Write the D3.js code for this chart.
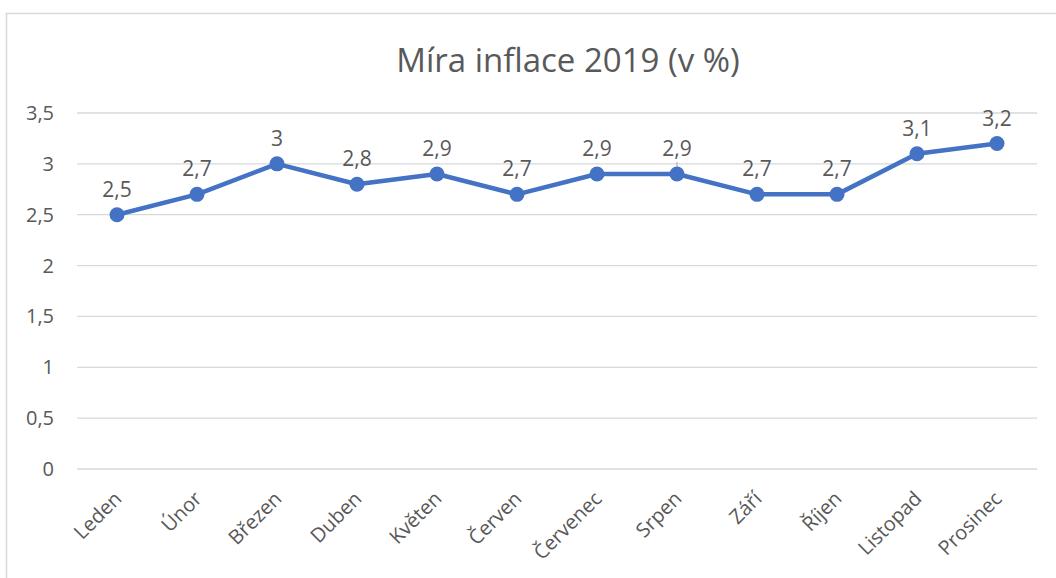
<!DOCTYPE html>
<html>
<head>
<meta charset="utf-8">
<script src="https://cdn.jsdelivr.net/npm/d3@7"></script>
<style>
  html, body { margin: 0; padding: 0; background: #fff; }
  svg { display: block; }
  text { font-family: "Open Sans", "Noto Sans", sans-serif; fill: #595959; }
</style>
</head>
<body>
<svg id="chart" width="1056" height="578"></svg>
<script>
const categories = ["Leden", "Únor", "Březen", "Duben", "Květen", "Červen", "Červenec", "Srpen", "Září", "Říjen", "Listopad", "Prosinec"];
const values = [2.5, 2.7, 3.0, 2.8, 2.9, 2.7, 2.9, 2.9, 2.7, 2.7, 3.1, 3.2];
const valueLabels = ["2,5", "2,7", "3", "2,8", "2,9", "2,7", "2,9", "2,9", "2,7", "2,7", "3,1", "3,2"];
const yTicks = [0, 0.5, 1, 1.5, 2, 2.5, 3, 3.5];
const yTickLabels = ["0", "0,5", "1", "1,5", "2", "2,5", "3", "3,5"];
const title = "Míra inflace 2019 (v %)";

const svg = d3.select("#chart");
const W = 1056, H = 578;
const plot = { left: 77, right: 1037, top: 113, bottom: 469 };

// chart area border
svg.append("rect")
  .attr("x", 6.5).attr("y", 13.5)
  .attr("width", W + 20).attr("height", H + 20)
  .attr("fill", "none").attr("stroke", "#d9d9d9").attr("stroke-width", 1.5);

const x = d3.scaleBand().domain(categories).range([plot.left, plot.right]);
const y = d3.scaleLinear().domain([0, 3.5]).range([plot.bottom, plot.top]);
const cx = d => x(d) + x.bandwidth() / 2;

// title
svg.append("text")
  .attr("x", 568).attr("y", 72)
  .attr("text-anchor", "middle")
  .style("font-size", "33px")
  .text(title);

// gridlines
svg.append("g").selectAll("line").data(yTicks).join("line")
  .attr("x1", plot.left).attr("x2", plot.right)
  .attr("y1", d => y(d)).attr("y2", d => y(d))
  .attr("stroke", "#d9d9d9").attr("stroke-width", 1.3);

// y tick labels
svg.append("g").selectAll("text").data(yTicks).join("text")
  .attr("x", 54).attr("y", d => y(d))
  .attr("dy", "0.35em")
  .attr("text-anchor", "end")
  .style("font-size", "20px")
  .text((d, i) => yTickLabels[i]);

// x labels
svg.append("g").selectAll("text").data(categories).join("text")
  .attr("transform", d => `translate(${cx(d) + 1},${495}) rotate(-45)`)
  .attr("dy", "0.35em")
  .attr("text-anchor", "end")
  .style("font-size", "20px")
  .text(d => d);

// line
const data = categories.map((c, i) => ({ c, v: values[i], l: valueLabels[i] }));
const line = d3.line().x(d => cx(d.c)).y(d => y(d.v));
svg.append("path").datum(data)
  .attr("d", line)
  .attr("fill", "none")
  .attr("stroke", "#4472C4")
  .attr("stroke-width", 4.5)
  .attr("stroke-linejoin", "round");

// leader line artifact at Srpen
svg.append("line")
  .attr("x1", cx("Srpen")).attr("x2", cx("Srpen"))
  .attr("y1", y(2.9) - 12).attr("y2", y(2.9))
  .attr("stroke", "#a6a6a6").attr("stroke-width", 1);

// markers
svg.append("g").selectAll("circle").data(data).join("circle")
  .attr("cx", d => cx(d.c)).attr("cy", d => y(d.v))
  .attr("r", 7.5)
  .attr("fill", "#4472C4");

// data labels
svg.append("g").selectAll("text").data(data).join("text")
  .attr("x", d => cx(d.c)).attr("y", d => y(d.v) - 18)
  .attr("text-anchor", "middle")
  .style("font-size", "21px")
  .text(d => d.l);
</script>
</body>
</html>
